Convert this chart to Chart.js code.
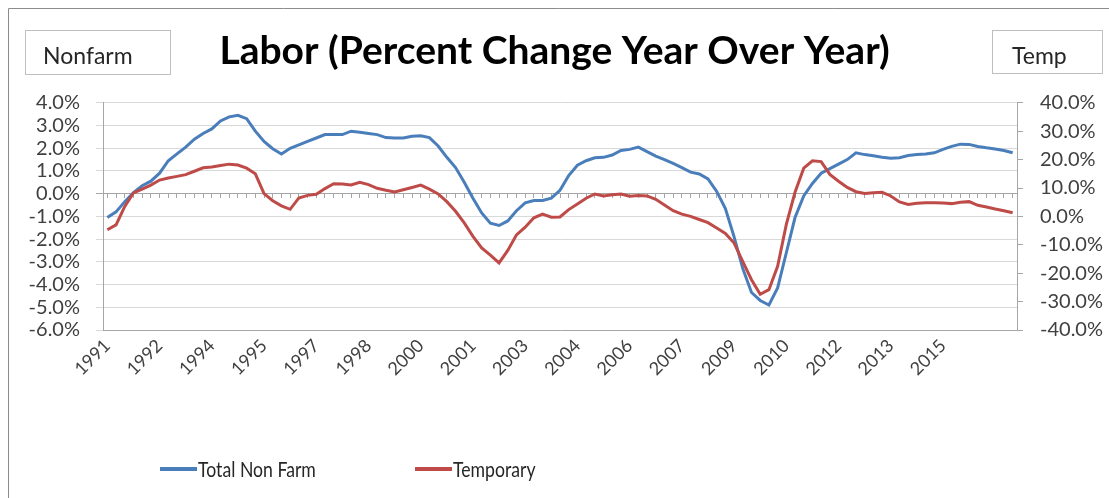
<!DOCTYPE html>
<html lang="en">
  <head>
    <meta charset="UTF-8" />
    <meta name="viewport" content="width=device-width, initial-scale=1.0" />
    <script src="https://cdn.jsdelivr.net/npm/chart.js"></script>
    <style>
      body {
        margin: 0;
        background: #fff;
      }
      canvas {
        display: block;
      }
    </style>
  </head>
  <body>
    <canvas id="laborChart" width="1109" height="498"></canvas>

    <script>
      // quarterly points, 1991 Q1 .. 2017 Q1
      const startYear = 1991;
      const quarterCount = 105;
      const quarters = [];
      for (let i = 0; i < quarterCount; i++) {
        quarters.push(startYear + Math.floor(i / 4) + " Q" + ((i % 4) + 1));
      }

      // one year label every 6 quarters (18 months)
      const yearTicks = [
        "1991", "1992", "1994", "1995", "1997", "1998", "2000", "2001", "2003",
        "2004", "2006", "2007", "2009", "2010", "2012", "2013", "2015",
      ];

      // Total Non Farm, % change y/y (left axis)
      const nonFarm = [
        -1.05, -0.8, -0.35, 0.05, 0.35, 0.55, 0.9, 1.45, 1.75, 2.05,
        2.4, 2.65, 2.85, 3.2, 3.38, 3.45, 3.3, 2.75, 2.3, 1.98,
        1.75, 2.0, 2.15, 2.3, 2.45, 2.6, 2.6, 2.6, 2.75, 2.7,
        2.65, 2.6, 2.47, 2.45, 2.45, 2.53, 2.55, 2.47, 2.1, 1.6,
        1.15, 0.5, -0.2, -0.85, -1.3, -1.4, -1.2, -0.75, -0.4, -0.3,
        -0.3, -0.2, 0.15, 0.8, 1.25, 1.45, 1.58, 1.6, 1.7, 1.9,
        1.95, 2.05, 1.85, 1.65, 1.5, 1.33, 1.15, 0.95, 0.87, 0.65,
        0.1, -0.65, -1.9, -3.3, -4.35, -4.7, -4.9, -4.15, -2.6, -1.05,
        -0.1, 0.45, 0.9, 1.1, 1.3, 1.5, 1.8, 1.72, 1.67, 1.6,
        1.56, 1.58, 1.68, 1.72, 1.75, 1.8, 1.95, 2.08, 2.18, 2.17,
        2.08, 2.02, 1.97, 1.9, 1.8,
      ];

      // Temporary help, % change y/y (right axis)
      const temporary = [
        -4.7, -3.0, 3.5, 8.3, 9.6, 11.0, 12.8, 13.5, 14.1, 14.7,
        15.9, 17.1, 17.4, 17.9, 18.4, 18.1, 17.0, 15.0, 8.0, 5.5,
        3.7, 2.5, 6.5, 7.4, 7.8, 9.8, 11.5, 11.4, 11.1, 12.0,
        11.2, 9.9, 9.2, 8.6, 9.4, 10.2, 11.0, 9.6, 7.9, 5.2,
        1.8, -2.3, -7.0, -11.1, -13.6, -16.4, -12.0, -6.5, -3.8, -0.5,
        0.8, -0.3, -0.2, 2.4, 4.4, 6.4, 7.9, 7.2, 7.6, 7.9,
        7.1, 7.4, 7.2, 6.0, 4.0, 2.0, 0.8, 0.0, -1.1, -2.2,
        -4.1, -6.0, -9.4, -15.9, -22.3, -27.4, -25.8, -17.6, -2.8, 8.5,
        17.0, 19.6, 19.3, 14.8, 12.4, 10.2, 8.7, 8.1, 8.3, 8.5,
        7.2, 5.1, 4.2, 4.6, 4.8, 4.8, 4.7, 4.5, 5.0, 5.2,
        3.9, 3.3, 2.6, 2.0, 1.3,
      ];

      const chartTitle = "Labor (Percent Change Year Over Year)";
      const leftAxisName = "Nonfarm";
      const rightAxisName = "Temp";

      const axisGray = "#a6a6a6";
      const gridGray = "#d9d9d9";
      const textGray = "#404040";

      Chart.defaults.font.family = "Lato, 'Open Sans', sans-serif";
      Chart.defaults.color = textGray;

      const pct = (v) => v.toFixed(1) + "%";

      // frame, axis name boxes and the legend
      const decor = {
        id: "decor",
        beforeDraw(chart) {
          const ctx = chart.ctx;
          ctx.save();
          ctx.strokeStyle = "#8c8c8c";
          ctx.lineWidth = 1;
          ctx.beginPath();
          ctx.moveTo(8.5, 498);
          ctx.lineTo(8.5, 8.5);
          ctx.lineTo(1109, 8.5);
          ctx.stroke();

          ctx.strokeStyle = "#bfbfbf";
          ctx.strokeRect(25.5, 30.5, 145, 44);
          ctx.strokeRect(992.5, 30.5, 110, 43);
          ctx.fillStyle = "#262626";
          ctx.font = "23px Lato, sans-serif";
          ctx.textBaseline = "alphabetic";
          ctx.fillText(leftAxisName, 43, 64);
          ctx.fillText(rightAxisName, 1012, 64);
          ctx.restore();
        },
        afterDraw(chart) {
          const ctx = chart.ctx;
          const legendX = [160, 415];
          const y = 469;
          ctx.save();
          chart.data.datasets.forEach((ds, i) => {
            const x = legendX[i];
            ctx.strokeStyle = ds.borderColor;
            ctx.lineWidth = 4;
            ctx.beginPath();
            ctx.moveTo(x, y);
            ctx.lineTo(x + 37, y);
            ctx.stroke();
            // narrow legend text, like the original
            ctx.save();
            ctx.translate(x + 38, y + 1);
            ctx.scale(0.84, 1);
            ctx.fillStyle = "#262626";
            ctx.font = "21px Lato, sans-serif";
            ctx.textBaseline = "middle";
            ctx.fillText(ds.label, 0, 0);
            ctx.restore();
          });
          ctx.restore();
        },
      };

      const ctx = document.getElementById("laborChart").getContext("2d");
      const chart = new Chart(ctx, {
        type: "line",
        data: {
          labels: quarters,
          datasets: [
            {
              label: "Total Non Farm",
              data: nonFarm,
              borderColor: "#4a7ebb",
              backgroundColor: "#4a7ebb",
              borderWidth: 3,
              pointRadius: 0,
              tension: 0,
              order: 1,
              xAxisID: "x",
              yAxisID: "y",
            },
            {
              label: "Temporary",
              data: temporary,
              borderColor: "#be4b48",
              backgroundColor: "#be4b48",
              borderWidth: 3,
              pointRadius: 0,
              tension: 0,
              order: 0,
              xAxisID: "x",
              yAxisID: "y2",
            },
          ],
        },
        options: {
          responsive: false,
          animation: false,
          layout: {
            padding: { left: 0, right: 0, top: 0, bottom: 98 },
          },
          plugins: {
            legend: { display: false },
            tooltip: { enabled: false },
            title: {
              display: true,
              text: chartTitle,
              color: "#000",
              font: { size: 39, weight: "bold" },
              padding: { top: 28, bottom: 28 },
            },
          },
          scales: {
            x: {
              type: "category",
              offset: true,
              grid: { display: false, drawTicks: false },
              border: { display: true, color: axisGray },
              ticks: {
                autoSkip: false,
                minRotation: 45,
                maxRotation: 45,
                padding: 5,
                font: { size: 18 },
                callback: (v, i) =>
                  i % 6 === 0 && yearTicks[i / 6] ? yearTicks[i / 6] : "",
              },
              afterFit: (s) => {
                s.height = 70;
              },
            },
            // horizontal axis line crossing at 0 with its tick marks
            zero: {
              type: "category",
              axis: "x",
              position: { y: 0 },
              offset: true,
              ticks: { display: false },
              grid: { drawOnChartArea: false, tickLength: 4, color: axisGray },
              border: { display: true, color: axisGray },
            },
            y: {
              position: "left",
              min: -6,
              max: 4,
              ticks: {
                stepSize: 1,
                autoSkip: false,
                padding: 16,
                font: { size: 20 },
                callback: pct,
              },
              grid: {
                color: (c) => (c.tick && c.tick.value === 0 ? axisGray : gridGray),
                tickLength: 7,
              },
              border: { color: axisGray },
              afterFit: (s) => {
                s.width = 103;
              },
            },
            y2: {
              position: "right",
              min: -40,
              max: 40,
              ticks: {
                stepSize: 10,
                autoSkip: false,
                padding: 17,
                font: { size: 20 },
                callback: pct,
              },
              grid: { drawOnChartArea: false, tickLength: 6, color: axisGray },
              border: { color: axisGray },
              afterFit: (s) => {
                s.width = 92;
              },
            },
          },
        },
        plugins: [decor],
      });
    </script>
  </body>
</html>
